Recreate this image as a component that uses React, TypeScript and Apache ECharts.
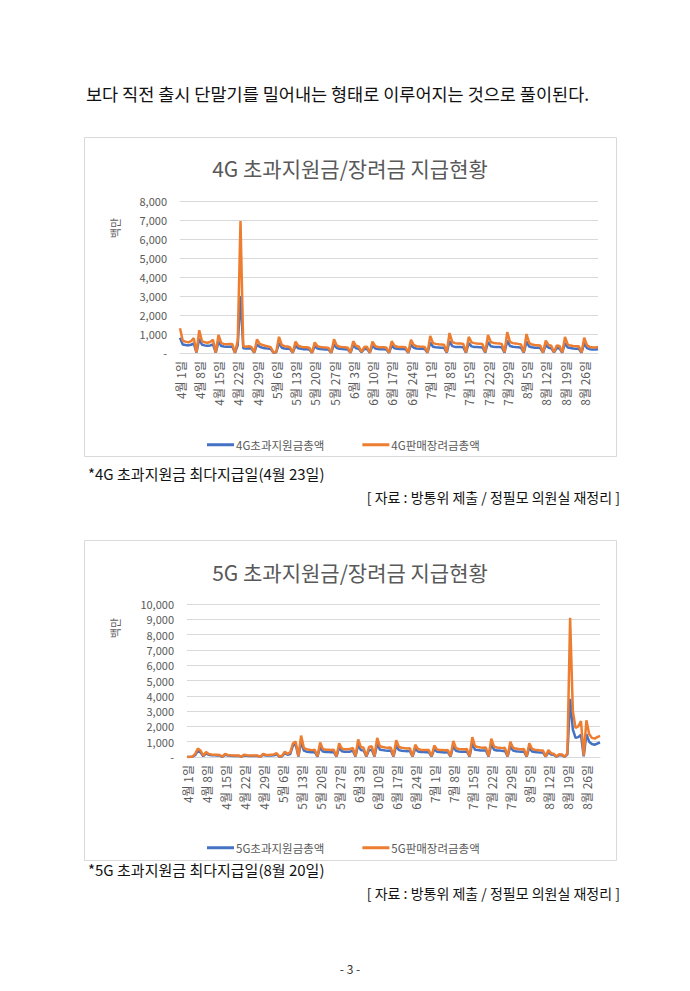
import React, { useEffect, useRef } from "react";
import * as echarts from "echarts";

// ---- categories (daily, 2019-04-01 .. 2019-08-31) ----
const MONTHS = [4, 5, 6, 7, 8];
const MONTH_DAYS = [30, 31, 30, 31, 31];
const DATES: string[] = [];
MONTHS.forEach((m, k) => {
  for (let d = 1; d <= MONTH_DAYS[k]; d++) DATES.push(`${m}월 ${d}일`);
});

const SERIES_4G = ["4G초과지원금총액", "4G판매장려금총액"];
const SERIES_5G = ["5G초과지원금총액", "5G판매장려금총액"];

// ---- 4G (unit: 백만) one row per week, Mon..Sun ----
const G4_SUBSIDY = [
  800, 450, 420, 400, 430, 500, 20,
  750, 430, 400, 380, 400, 450, 15,
  600, 370, 340, 330, 330, 340, 10,
  420, 3000, 250, 230, 250, 230, 15,
  450, 320, 280, 250, 240, 210, 15,
  40, 520, 280, 240, 230, 210, 10,
  380, 250, 220, 200, 200, 190, 10,
  350, 240, 210, 200, 190, 180, 10,
  450, 260, 220, 210, 200, 190, 15,
  400, 250, 220, 40, 210, 220, 10,
  380, 240, 210, 200, 200, 190, 10,
  390, 250, 220, 210, 210, 200, 15,
  430, 280, 240, 230, 220, 210, 15,
  550, 330, 300, 290, 280, 270, 20,
  620, 360, 320, 310, 310, 300, 20,
  520, 350, 320, 310, 300, 290, 20,
  580, 360, 330, 320, 310, 300, 20,
  650, 370, 330, 310, 300, 280, 20,
  600, 340, 300, 280, 270, 260, 15,
  420, 280, 250, 30, 260, 240, 15,
  520, 290, 260, 240, 230, 220, 15,
  500, 260, 200, 190, 180, 200,
];
const G4_INCENTIVE = [
  1300, 650, 600, 560, 620, 780, 30,
  1200, 620, 560, 540, 580, 700, 20,
  950, 520, 480, 460, 470, 480, 10,
  650, 6950, 350, 330, 360, 320, 20,
  720, 480, 420, 380, 350, 300, 20,
  60, 850, 420, 360, 340, 300, 10,
  600, 380, 330, 300, 300, 280, 10,
  560, 360, 320, 300, 290, 270, 10,
  720, 400, 330, 310, 300, 280, 20,
  620, 380, 340, 60, 310, 330, 10,
  600, 360, 320, 300, 300, 290, 10,
  620, 380, 330, 310, 310, 300, 20,
  700, 420, 360, 340, 330, 320, 20,
  900, 520, 480, 460, 450, 440, 30,
  1050, 580, 520, 500, 500, 480, 30,
  850, 560, 520, 500, 490, 470, 30,
  950, 580, 530, 510, 500, 480, 30,
  1100, 590, 520, 500, 480, 450, 30,
  1000, 520, 450, 420, 410, 400, 20,
  650, 420, 380, 40, 400, 370, 20,
  850, 440, 390, 370, 360, 350, 20,
  800, 400, 320, 300, 290, 320,
];

// ---- 5G (unit: 백만) one row per week, Mon..Sun ----
const G5_SUBSIDY = [
  0, 0, 15, 120, 400, 300, 50,
  230, 140, 120, 110, 100, 90, 15,
  140, 90, 80, 70, 70, 70, 10,
  100, 80, 70, 60, 60, 60, 10,
  140, 100, 90, 100, 110, 170, 20,
  50, 250, 150, 200, 750, 820, 30,
  1000, 420, 350, 330, 310, 330, 30,
  650, 360, 330, 320, 310, 330, 30,
  620, 380, 340, 340, 350, 420, 30,
  800, 450, 420, 40, 450, 480, 30,
  850, 480, 450, 420, 410, 420, 30,
  750, 450, 410, 400, 380, 400, 30,
  550, 360, 330, 320, 310, 320, 30,
  520, 350, 320, 310, 300, 320, 30,
  720, 400, 360, 350, 350, 360, 30,
  900, 480, 450, 430, 420, 430, 30,
  830, 470, 430, 420, 400, 410, 30,
  700, 420, 380, 360, 350, 360, 30,
  620, 360, 330, 310, 300, 290, 30,
  310, 170, 140, 20, 120, 110, 15,
  170, 3800, 1800, 1250, 1300, 1450, 50,
  1500, 1000, 850, 800, 880, 950,
];
const G5_INCENTIVE = [
  0, 0, 30, 200, 550, 420, 80,
  320, 200, 170, 150, 140, 130, 20,
  200, 130, 110, 100, 100, 100, 10,
  150, 110, 100, 90, 90, 90, 10,
  200, 150, 130, 150, 170, 250, 30,
  80, 350, 200, 300, 900, 1000, 50,
  1400, 600, 500, 480, 450, 480, 40,
  950, 520, 480, 470, 460, 480, 40,
  900, 550, 500, 500, 520, 600, 50,
  1150, 650, 600, 60, 650, 700, 50,
  1250, 700, 650, 620, 600, 620, 50,
  1100, 650, 600, 580, 560, 580, 40,
  800, 520, 480, 460, 450, 460, 40,
  750, 500, 460, 450, 440, 460, 40,
  1050, 580, 520, 500, 500, 520, 50,
  1300, 700, 650, 620, 600, 620, 50,
  1200, 680, 620, 600, 580, 600, 50,
  1000, 600, 550, 520, 500, 520, 40,
  900, 520, 480, 450, 430, 420, 40,
  450, 250, 200, 30, 180, 170, 20,
  250, 9100, 3000, 1900, 2000, 2350, 80,
  2400, 1500, 1250, 1200, 1300, 1380,
];

const BLUE = "#4472C4";
const ORANGE = "#ED7D31";
const GRAY = "#595959";
const GRID_LINE = "#d9d9d9";
const FONT = "'Noto Sans CJK KR', 'Noto Sans', sans-serif";

const fmt = (v: number) => (v === 0 ? "-" : v.toLocaleString("en-US"));

function xAxis(gridIndex: number) {
  return {
    type: "category",
    gridIndex,
    data: DATES,
    boundaryGap: false,
    axisLine: { show: true, lineStyle: { color: GRID_LINE, width: 1 } },
    axisTick: { show: false },
    axisLabel: {
      interval: 6,
      rotate: 90,
      color: GRAY,
      fontSize: 12,
      margin: 8,
      fontFamily: FONT,
    },
  };
}

function yAxis(gridIndex: number, max: number) {
  return {
    type: "value",
    gridIndex,
    min: 0,
    max,
    interval: 1000,
    axisLine: { show: false },
    axisTick: { show: false },
    splitLine: { lineStyle: { color: GRID_LINE, width: 1 } },
    axisLabel: { formatter: fmt, color: GRAY, fontSize: 11, margin: 13, fontFamily: FONT },
  };
}

function line(name: string, data: number[], color: string, idx: number) {
  return {
    type: "line",
    name,
    data,
    xAxisIndex: idx,
    yAxisIndex: idx,
    symbol: "none",
    lineStyle: { color, width: 2.5 },
    itemStyle: { color },
    z: color === ORANGE ? 3 : 2,
  };
}

function legend(data: string[], top: number) {
  return {
    data,
    left: 202,
    top,
    icon: "rect",
    itemWidth: 27,
    itemHeight: 3,
    itemGap: 38,
    textStyle: { color: GRAY, fontSize: 11.5, fontFamily: FONT, padding: [0, 0, 0, -3] },
  };
}

export default function App() {
  const ref = useRef<HTMLDivElement>(null);
  useEffect(() => {
    if (!ref.current) return;
    const chart = echarts.init(ref.current, undefined, { renderer: "svg" });
    chart.setOption({
      animation: false,
      backgroundColor: "#ffffff",
      textStyle: { fontFamily: FONT },
      title: [
        {
          text: "4G 초과지원금/장려금 지급현황",
          left: 345,
          top: 152,
          textAlign: "center",
          textStyle: { color: GRAY, fontSize: 21, fontWeight: "normal", fontFamily: FONT },
        },
        {
          text: "5G 초과지원금/장려금 지급현황",
          left: 345,
          top: 556,
          textAlign: "center",
          textStyle: { color: GRAY, fontSize: 21, fontWeight: "normal", fontFamily: FONT },
        },
      ],
      legend: [legend(SERIES_4G, 434), legend(SERIES_5G, 837)],
      grid: [
        { left: 180, right: 92, top: 201, bottom: 991 - 353 },
        { left: 187, right: 90, top: 604, bottom: 991 - 757 },
      ],
      xAxis: [xAxis(0), xAxis(1)],
      yAxis: [yAxis(0, 8000), yAxis(1, 10000)],
      series: [
        line(SERIES_4G[0], G4_SUBSIDY, BLUE, 0),
        line(SERIES_4G[1], G4_INCENTIVE, ORANGE, 0),
        line(SERIES_5G[0], G5_SUBSIDY, BLUE, 1),
        line(SERIES_5G[1], G5_INCENTIVE, ORANGE, 1),
      ],
      graphic: {
        elements: [
          {
            type: "text",
            x: 86,
            y: 93,
            style: {
              text: "보다 직전 출시 단말기를 밀어내는 형태로 이루어지는 것으로 풀이된다.",
              fontSize: 17.5,
              fill: "#111",
              verticalAlign: "middle",
              fontFamily: FONT,
            },
          },
          {
            type: "rect",
            shape: { x: 84.5, y: 137.5, width: 532, height: 319 },
            style: { fill: "none", stroke: GRID_LINE, lineWidth: 1 },
            silent: true,
          },
          {
            type: "rect",
            shape: { x: 84.5, y: 540.5, width: 532, height: 320 },
            style: { fill: "none", stroke: GRID_LINE, lineWidth: 1 },
            silent: true,
          },
          {
            type: "text",
            x: 115,
            y: 228,
            rotation: Math.PI / 2,
            style: { text: "백만", fontSize: 11, fill: GRAY, align: "center", verticalAlign: "middle", fontFamily: FONT },
          },
          {
            type: "text",
            x: 115,
            y: 628,
            rotation: Math.PI / 2,
            style: { text: "백만", fontSize: 11, fill: GRAY, align: "center", verticalAlign: "middle", fontFamily: FONT },
          },
          {
            type: "text",
            x: 88,
            y: 473,
            style: { text: "*4G 초과지원금 최다지급일(4월 23일)", fontSize: 15, fill: "#111", verticalAlign: "middle", fontFamily: FONT },
          },
          {
            type: "text",
            x: 620,
            y: 497,
            style: { text: "[ 자료 : 방통위 제출 / 정필모 의원실 재정리 ]", fontSize: 14, fill: "#111", align: "right", verticalAlign: "middle", fontFamily: FONT },
          },
          {
            type: "text",
            x: 88,
            y: 869,
            style: { text: "*5G 초과지원금 최다지급일(8월 20일)", fontSize: 15, fill: "#111", verticalAlign: "middle", fontFamily: FONT },
          },
          {
            type: "text",
            x: 620,
            y: 893,
            style: { text: "[ 자료 : 방통위 제출 / 정필모 의원실 재정리 ]", fontSize: 14, fill: "#111", align: "right", verticalAlign: "middle", fontFamily: FONT },
          },
          {
            type: "text",
            x: 350,
            y: 968,
            style: { text: "- 3 -", fontSize: 12, fill: "#333", align: "center", verticalAlign: "middle", fontFamily: FONT },
          },
        ],
      },
    });
    return () => chart.dispose();
  }, []);
  return (
    <div
      ref={ref}
      style={{ position: "absolute", left: 0, top: 0, width: 690, height: 991, background: "#fff" }}
    />
  );
}
